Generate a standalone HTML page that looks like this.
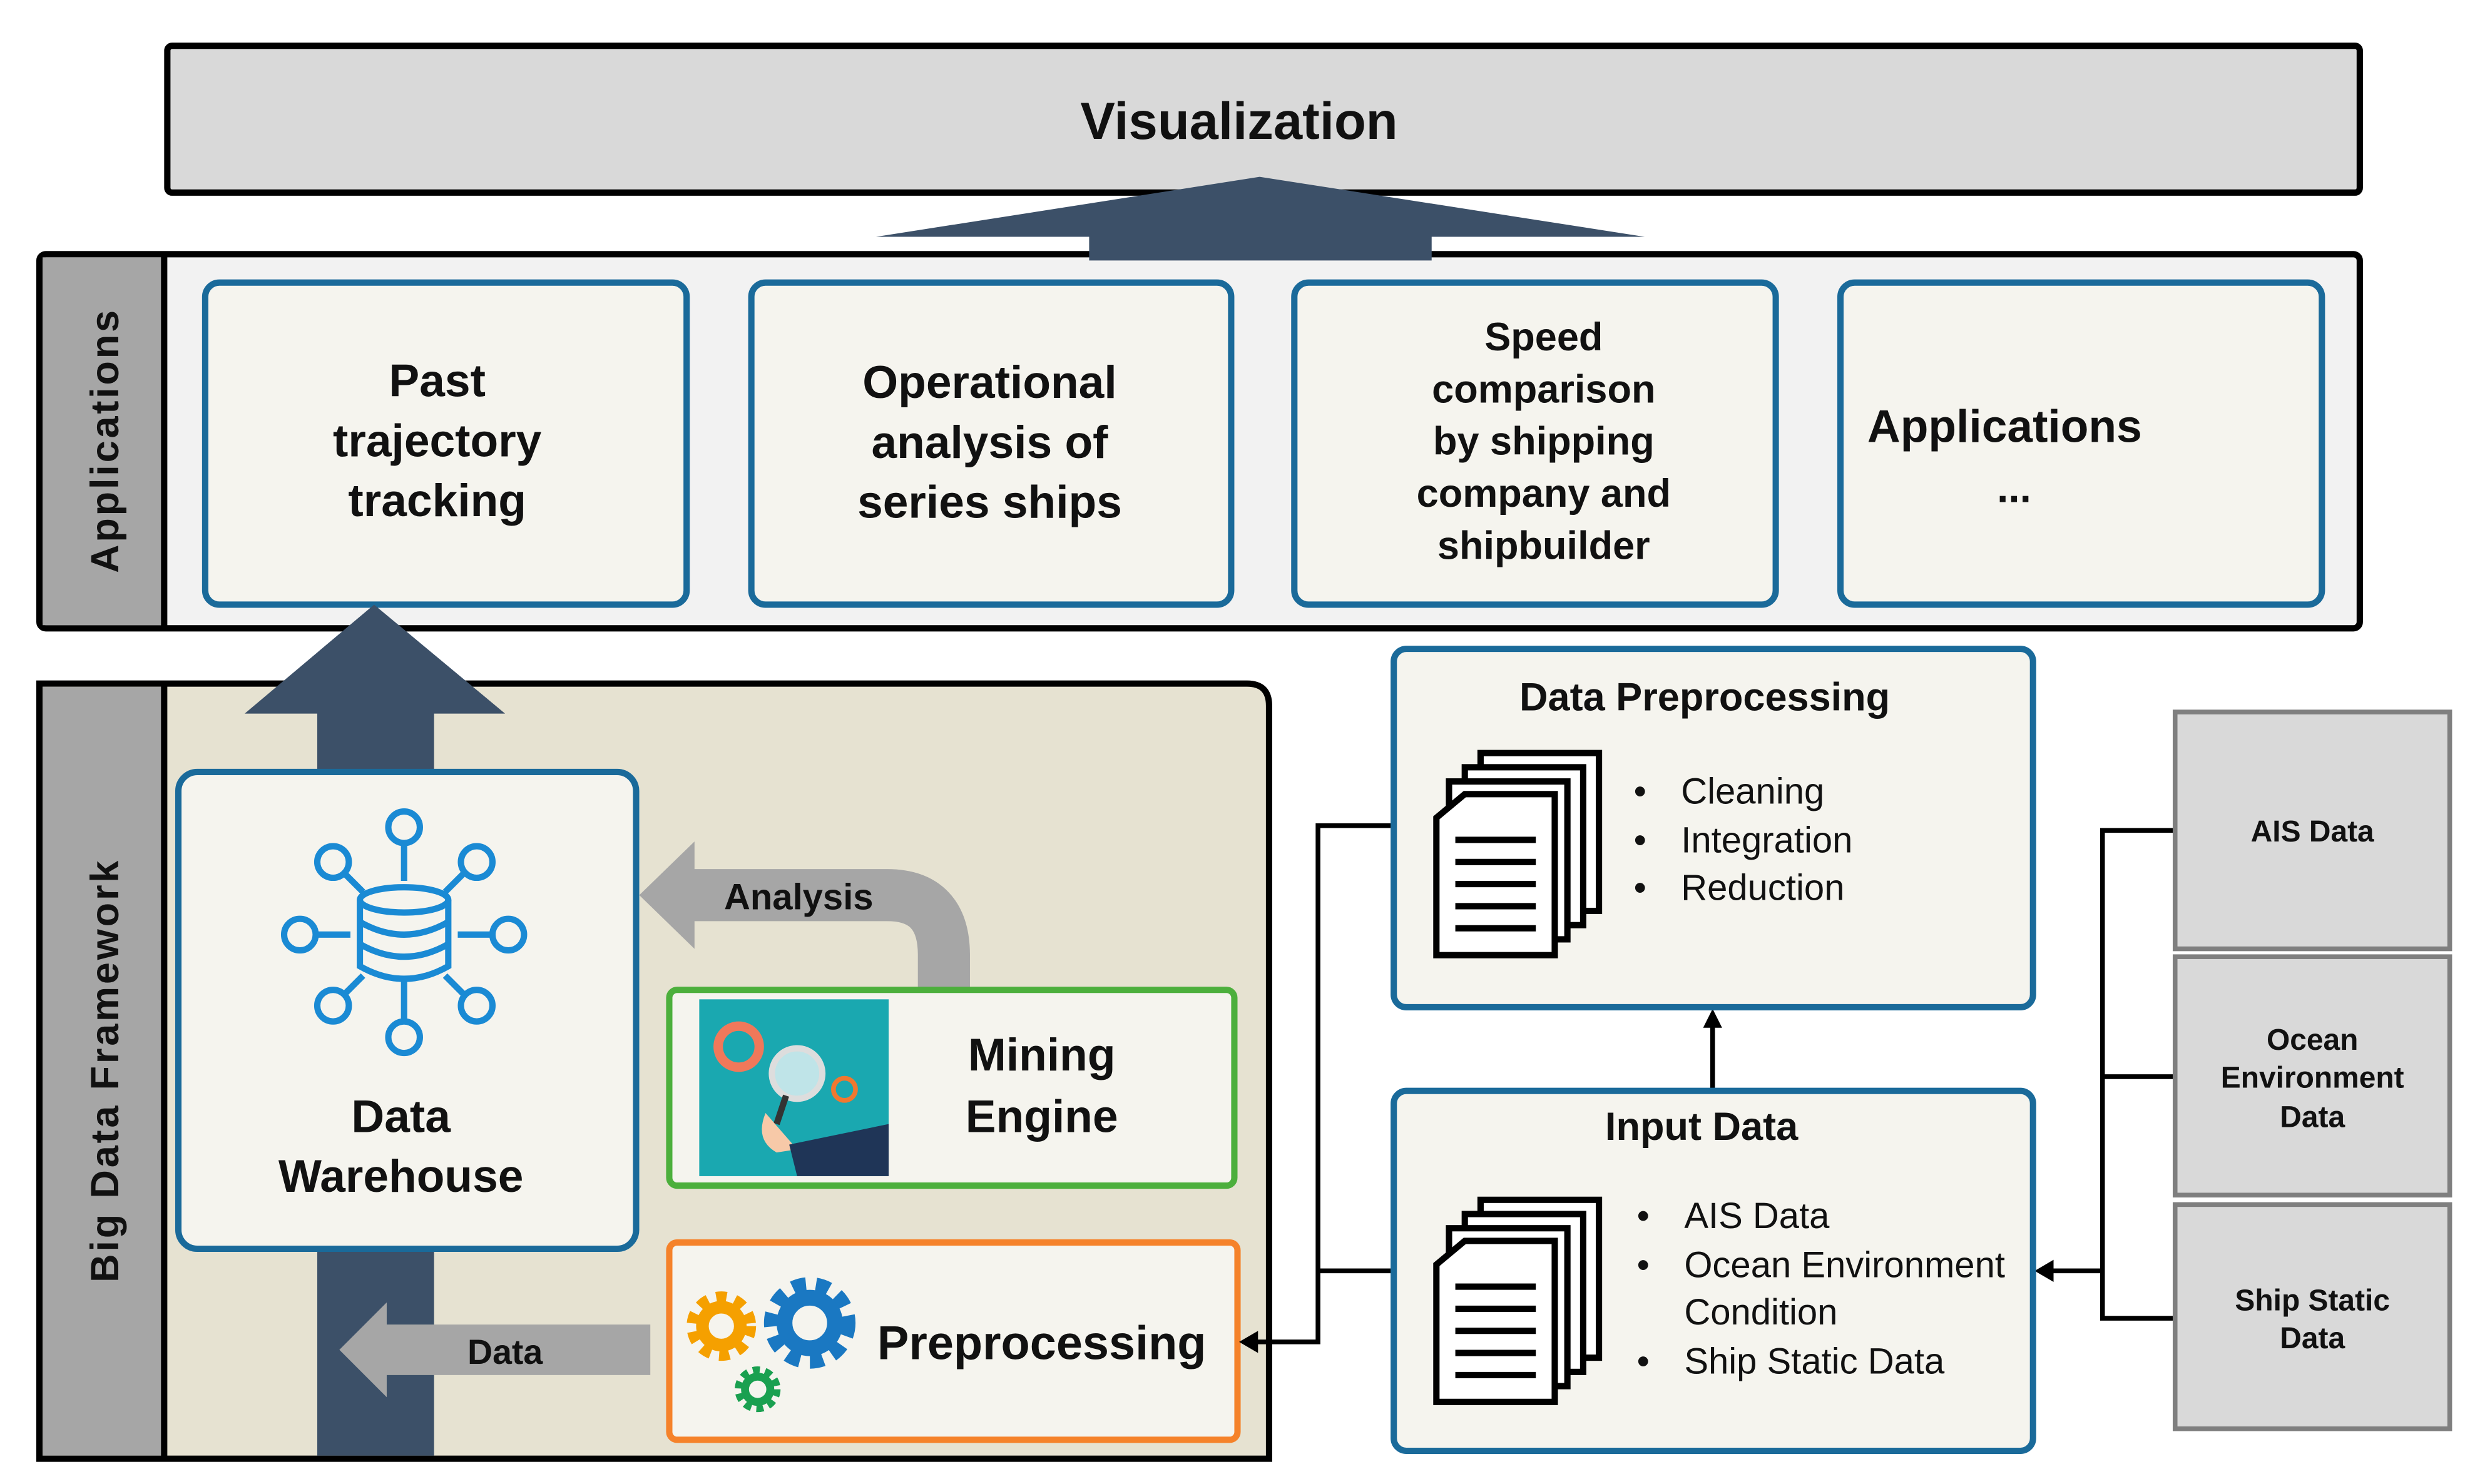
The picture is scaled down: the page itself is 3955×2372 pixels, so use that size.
<!DOCTYPE html>
<html><head><meta charset="utf-8"><style>
html,body{margin:0;padding:0;background:#fff;}
svg{display:block;}
text{font-family:"Liberation Sans",sans-serif;}
</style></head><body>
<svg width="3955" height="2372" viewBox="0 0 1568 940" preserveAspectRatio="none" xmlns="http://www.w3.org/2000/svg">
<rect width="1568" height="940" fill="#fff"/>
<rect x="106" y="29" width="1389" height="93" rx="3" fill="#d9d9d9" stroke="#000" stroke-width="4"/>
<text x="785" y="88" text-anchor="middle" font-size="33" font-weight="bold" fill="#111">Visualization</text>
<rect x="25" y="161" width="1470" height="237" rx="4" fill="#f2f2f2" stroke="#000" stroke-width="4"/>
<rect x="27" y="163" width="76" height="233" fill="#a6a6a6"/>
<line x1="104" y1="161" x2="104" y2="398" stroke="#000" stroke-width="4"/>
<text transform="translate(75,279) rotate(-90)" text-anchor="middle" font-size="25" font-weight="bold" fill="#111" letter-spacing="1.5">Applications</text>
<polygon points="798,112 1042,150 907,150 907,165 690,165 690,150 555,150" fill="#3c5068"/>
<g fill="#f5f4ee" stroke="#1a6a9a" stroke-width="4">
<rect x="130" y="179" width="305" height="204" rx="9"/>
<rect x="476" y="179" width="304" height="204" rx="9"/>
<rect x="820" y="179" width="305" height="204" rx="9"/>
<rect x="1166" y="179" width="305" height="204" rx="9"/>
</g>
<g font-size="29" font-weight="bold" fill="#111" text-anchor="middle">
<text x="277" y="251">Past</text><text x="277" y="289">trajectory</text><text x="277" y="327">tracking</text>
<text x="627" y="252">Operational</text><text x="627" y="290">analysis of</text><text x="627" y="328">series ships</text>
</g>
<g font-size="25" font-weight="bold" fill="#111" text-anchor="middle">
<text x="978" y="222">Speed</text><text x="978" y="255">comparison</text><text x="978" y="288">by shipping</text><text x="978" y="321">company and</text><text x="978" y="354">shipbuilder</text>
</g>
<text x="1183" y="280" font-size="29" font-weight="bold" fill="#111">Applications</text>
<text x="1276" y="318" font-size="26" font-weight="bold" fill="#111" text-anchor="middle">...</text>
<path d="M25,433 H790 Q804,433 804,447 V924 H25 Z" fill="#e6e2d1" stroke="#000" stroke-width="4"/>
<rect x="27" y="435" width="76" height="487" fill="#a6a6a6"/>
<line x1="104" y1="433" x2="104" y2="924" stroke="#000" stroke-width="4"/>
<text transform="translate(75,678) rotate(-90)" text-anchor="middle" font-size="25" font-weight="bold" fill="#111" letter-spacing="1.5">Big Data Framework</text>
<polygon points="237,383 320,452 275,452 275,922 201,922 201,452 155,452" fill="#3c5068"/>
<rect x="113" y="489" width="290" height="302" rx="12" fill="#f5f4ee" stroke="#1a6a9a" stroke-width="4"/>
<g stroke="#1a8ad4" stroke-width="4" fill="none">
<ellipse cx="256" cy="570" rx="28" ry="8"/>
<path d="M228,570 V612 Q256,628 284,612 V570"/>
<path d="M228,584 Q256,600 284,584"/><path d="M228,598 Q256,614 284,598"/>
<line x1="256" y1="532" x2="256" y2="558"/><circle cx="256" cy="524" r="10"/>
<line x1="256" y1="622" x2="256" y2="648"/><circle cx="256" cy="657" r="10"/>
<line x1="200" y1="592" x2="222" y2="592"/><circle cx="190" cy="592" r="10"/>
<line x1="290" y1="592" x2="312" y2="592"/><circle cx="322" cy="592" r="10"/>
<line x1="218" y1="553" x2="230" y2="565"/><circle cx="211" cy="546" r="10"/>
<line x1="294" y1="553" x2="282" y2="565"/><circle cx="302" cy="546" r="10"/>
<line x1="218" y1="630" x2="230" y2="618"/><circle cx="211" cy="637" r="10"/>
<line x1="294" y1="630" x2="282" y2="618"/><circle cx="302" cy="637" r="10"/>
</g>
<text x="254" y="717" text-anchor="middle" font-size="29" font-weight="bold" fill="#111">Data</text>
<text x="254" y="755" text-anchor="middle" font-size="29" font-weight="bold" fill="#111">Warehouse</text>
<path d="M438,567 H562 Q598,567 598,605 V628" fill="none" stroke="#a6a6a6" stroke-width="33"/>
<polygon points="405,567 440,533 440,601" fill="#a6a6a6"/>
<text x="506" y="576" text-anchor="middle" font-size="23" font-weight="bold" fill="#111">Analysis</text>
<rect x="424" y="627" width="358" height="124" rx="5" fill="#f5f4ee" stroke="#4caf3c" stroke-width="4"/>
<rect x="443" y="633" width="120" height="112" fill="#1aa8b0"/>
<circle cx="468" cy="663" r="13" fill="none" stroke="#f0785a" stroke-width="6"/>
<circle cx="505" cy="680" r="16" fill="#bfe4e8" stroke="#ddd" stroke-width="4"/>
<line x1="498" y1="694" x2="492" y2="712" stroke="#333" stroke-width="4"/>
<path d="M485,705 Q478,722 492,730 L505,728 Z" fill="#f7c9a8"/>
<polygon points="500,725 563,712 563,745 505,745" fill="#1f3557"/>
<circle cx="535" cy="690" r="7" fill="none" stroke="#f07830" stroke-width="3"/>
<text x="660" y="678" text-anchor="middle" font-size="29" font-weight="bold" fill="#111">Mining</text>
<text x="660" y="717" text-anchor="middle" font-size="29" font-weight="bold" fill="#111">Engine</text>
<rect x="424" y="787" width="360" height="125" rx="5" fill="#f5f4ee" stroke="#f5822a" stroke-width="4"/>
<polygon points="215,855 245,825 245,839 412,839 412,871 245,871 245,885" fill="#a6a6a6"/>
<text x="320" y="864" text-anchor="middle" font-size="22" font-weight="bold" fill="#111">Data</text>
<g fill="none">
<circle cx="457" cy="840" r="17" stroke="#f5a000" stroke-width="10" stroke-dasharray="6 5"/>
<circle cx="457" cy="840" r="12" stroke="#f5a000" stroke-width="8"/>
<circle cx="513" cy="838" r="23" stroke="#1a78c2" stroke-width="12" stroke-dasharray="8 6"/>
<circle cx="513" cy="838" r="16" stroke="#1a78c2" stroke-width="10"/>
<circle cx="480" cy="880" r="11" stroke="#1aa050" stroke-width="7" stroke-dasharray="4 3"/>
<circle cx="480" cy="880" r="8" stroke="#1aa050" stroke-width="5"/>
</g>
<text x="660" y="861" text-anchor="middle" font-size="30" font-weight="bold" fill="#111">Preprocessing</text>
<g stroke="#000" stroke-width="3" fill="none">
<polyline points="882,523 835,523 835,850 795,850"/>
<line x1="835" y1="805" x2="882" y2="805"/>
<line x1="1085" y1="690" x2="1085" y2="650"/>
<polyline points="1378,526 1332,526 1332,835 1378,835"/>
<line x1="1332" y1="682" x2="1378" y2="682"/>
<line x1="1332" y1="805" x2="1300" y2="805"/>
</g>
<polygon points="785,850 797,843 797,857" fill="#000"/>
<polygon points="1085,639 1079,651 1091,651" fill="#000"/>
<polygon points="1289,805 1301,798 1301,812" fill="#000"/>
<rect x="883" y="411" width="405" height="227" rx="8" fill="#f5f4ee" stroke="#1a6a9a" stroke-width="4"/>
<text x="1080" y="450" text-anchor="middle" font-size="25" font-weight="bold" fill="#111">Data Preprocessing</text>
<g id="docs" fill="#fff" stroke="#000" stroke-width="4">
<rect x="938" y="477" width="75" height="100"/>
<rect x="928" y="486" width="75" height="100"/>
<rect x="918" y="495" width="75" height="100"/>
<path d="M910,518 L928,503 H985 V605 H910 Z"/>
</g>
<g stroke="#000" stroke-width="4"><line x1="922" y1="532" x2="973" y2="532"/><line x1="922" y1="546" x2="973" y2="546"/><line x1="922" y1="560" x2="973" y2="560"/><line x1="922" y1="574" x2="973" y2="574"/><line x1="922" y1="588" x2="973" y2="588"/></g>
<g font-size="23" fill="#111">
<text x="1035" y="509">•</text><text x="1065" y="509">Cleaning</text>
<text x="1035" y="540">•</text><text x="1065" y="540">Integration</text>
<text x="1035" y="570">•</text><text x="1065" y="570">Reduction</text>
</g>
<rect x="883" y="691" width="405" height="228" rx="8" fill="#f5f4ee" stroke="#1a6a9a" stroke-width="4"/>
<text x="1078" y="722" text-anchor="middle" font-size="25" font-weight="bold" fill="#111">Input Data</text>
<use href="#docs" transform="translate(0,283)"/>
<g stroke="#000" stroke-width="4" transform="translate(0,283)"><line x1="922" y1="532" x2="973" y2="532"/><line x1="922" y1="546" x2="973" y2="546"/><line x1="922" y1="560" x2="973" y2="560"/><line x1="922" y1="574" x2="973" y2="574"/><line x1="922" y1="588" x2="973" y2="588"/></g>
<g font-size="23" fill="#111">
<text x="1037" y="778">•</text><text x="1067" y="778">AIS Data</text>
<text x="1037" y="809">•</text><text x="1067" y="809">Ocean Environment</text>
<text x="1067" y="839">Condition</text>
<text x="1037" y="870">•</text><text x="1067" y="870">Ship Static Data</text>
</g>
<g fill="#d9d9d9" stroke="#7f7f7f" stroke-width="3">
<rect x="1378" y="451" width="174" height="150"/>
<rect x="1378" y="606" width="174" height="151"/>
<rect x="1378" y="763" width="174" height="142"/>
</g>
<g font-size="19" font-weight="bold" fill="#111" text-anchor="middle">
<text x="1465" y="533">AIS Data</text>
<text x="1465" y="665">Ocean</text><text x="1465" y="689">Environment</text><text x="1465" y="714">Data</text>
<text x="1465" y="830">Ship Static</text><text x="1465" y="854">Data</text>
</g>
</svg>
</body></html>
